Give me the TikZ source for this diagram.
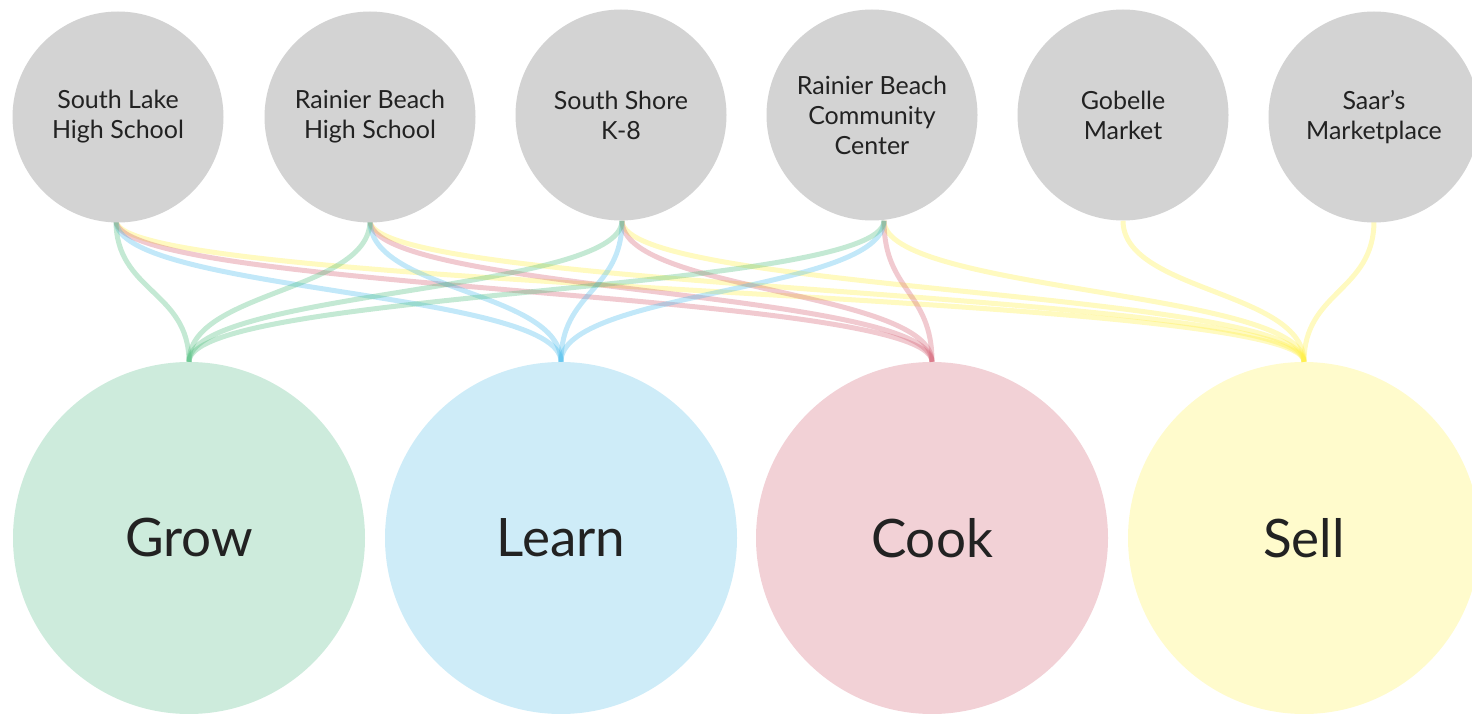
\documentclass[tikz,border=0pt]{standalone}
\usepackage{fontspec}
\setmainfont{Lato}
\definecolor{topgray}{RGB}{211,211,211}
\definecolor{growfill}{RGB}{205,235,220}
\definecolor{learnfill}{RGB}{206,236,248}
\definecolor{cookfill}{RGB}{242,209,214}
\definecolor{sellfill}{RGB}{255,251,204}
\definecolor{growline}{RGB}{72,187,120}
\definecolor{learnline}{RGB}{65,185,235}
\definecolor{cookline}{RGB}{210,90,110}
\definecolor{sellline}{RGB}{255,238,60}
\definecolor{txt}{RGB}{34,34,34}
\tikzset{
  place/.style={circle,fill=topgray,inner sep=0pt,minimum size=211pt,align=center,
    text=txt,font=\fontsize{25}{30}\selectfont},
  activity/.style={circle,inner sep=0pt,minimum size=352pt,text=txt,
    font=\fontsize{53}{60}\selectfont},
  link/.style={line width=5pt,opacity=0.32},
}
\newcommand{\lnk}[4]{\draw[link,#4] ([xshift=#3]#1.south) .. controls +(0,71) and +(0,-71) .. (#2.north);}
\begin{document}
\begin{tikzpicture}[x=1pt,y=-1pt]
\useasboundingbox (0,0) rectangle (1472,714);
\clip (0,0) rectangle (1472,714);
% bottom activity circles
\node[activity,fill=growfill]  (grow)  at (189,538) {Grow};
\node[activity,fill=learnfill] (learn) at (561,538) {Learn};
\node[activity,fill=cookfill]  (cook)  at (932,538) {Cook};
\node[activity,fill=sellfill]  (sell)  at (1304,538) {Sell};
% place positions
\node[place,fill=none] (slhs) at (118,115) {};
\node[place,fill=none] (rbhs) at (370,115) {};
\node[place,fill=none] (ss)   at (621,115) {};
\node[place,fill=none] (rbcc) at (872,115) {};
\node[place,fill=none] (gob)  at (1123,115) {};
\node[place,fill=none] (saar) at (1374,115) {};
% connectors
\foreach \p/\dx in {slhs/-2pt,rbhs/0pt,ss/1pt,rbcc/12pt}{
  \lnk{\p}{sell}{\dx}{sellline}
  \lnk{\p}{cook}{\dx}{cookline}
  \lnk{\p}{learn}{\dx}{learnline}
  \lnk{\p}{grow}{\dx}{growline}
}
\lnk{gob}{sell}{0pt}{sellline}
\lnk{saar}{sell}{0pt}{sellline}
% place circles drawn over the connector ends
\node[place] at ([yshift=-2pt]slhs) {South Lake\\High School};
\node[place] at ([yshift=-2pt]rbhs) {Rainier Beach\\High School};
\node[place] at (ss) {South Shore\\K-8};
\node[place] at (rbcc) {Rainier Beach\\Community\\Center};
\node[place] at (gob) {Gobelle\\Market};
\node[place] at ([yshift=-2pt]saar) {Saar’s\\Marketplace};
\end{tikzpicture}
\end{document}
